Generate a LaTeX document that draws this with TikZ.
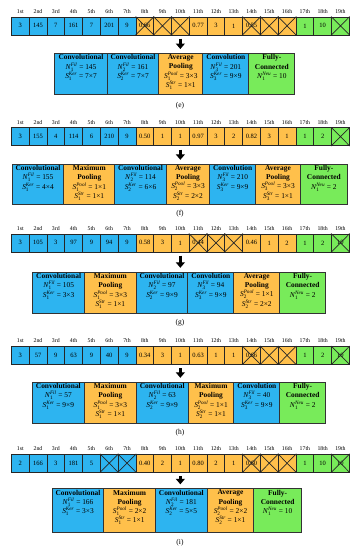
\documentclass[tikz,border=0pt]{standalone}
\usepackage{amsmath}
\usepackage{fontspec}
\setmainfont{Liberation Serif}
\usepackage{tikz}
\usetikzlibrary{arrows.meta, positioning}
\definecolor{cblue}{RGB}{45,180,240}
\definecolor{corange}{RGB}{255,192,75}
\definecolor{cgreen}{RGB}{120,235,90}
\newcommand{\parm}[3]{\textit{#1}$_{\textrm{#2}}^{\textit{#3}}$}

\begin{document}
\begin{tikzpicture}[x=1pt, y=-1pt,
			genebox/.style={draw=black!85, line width=0.7pt, minimum width=17.8pt, minimum height=18pt, inner sep=0pt, anchor=north west, font=\fontsize{6.5}{7}\selectfont},
			ordinal/.style={font=\fontsize{5.8}{6}\selectfont, inner sep=0pt},
			layerbox/.style={draw=black!80, line width=1pt, inner sep=0pt, anchor=north west},
			layertext/.style={align=center, inner sep=0pt, font=\fontsize{7.4}{9.3}\selectfont},
			panellabel/.style={font=\fontsize{7.5}{8}\selectfont},
			bigarrow/.style={line width=3.2pt, -{Triangle[width=9pt,length=5.5pt]}, shorten <=3.5pt, shorten >=4pt}
			]
			\useasboundingbox (0,0) rectangle (358,550);
			% gene values of each row: position/value/crossed
			\def\vale{1/3/0, 2/145/0, 3/7/0, 4/161/0, 5/7/0, 6/201/0, 7/9/0, 8/0.66/1, 9/{}/1, 10/{}/1, 11/0.77/0, 12/3/0, 13/1/0, 14/0.55/1, 15/{}/1, 16/{}/1, 17/1/0, 18/10/0, 19/{}/1}
			\def\valf{1/3/0, 2/155/0, 3/4/0, 4/114/0, 5/6/0, 6/210/0, 7/9/0, 8/0.50/0, 9/1/0, 10/1/0, 11/0.97/0, 12/3/0, 13/2/0, 14/0.82/0, 15/3/0, 16/1/0, 17/1/0, 18/2/0, 19/{}/1}
			\def\valg{1/3/0, 2/105/0, 3/3/0, 4/97/0, 5/9/0, 6/94/0, 7/9/0, 8/0.58/0, 9/3/0, 10/1/0, 11/0.44/1, 12/{}/1, 13/{}/1, 14/0.46/0, 15/1/0, 16/2/0, 17/1/0, 18/2/0, 19/10/1}
			\def\valh{1/3/0, 2/57/0, 3/9/0, 4/63/0, 5/9/0, 6/40/0, 7/9/0, 8/0.34/0, 9/3/0, 10/1/0, 11/0.63/0, 12/1/0, 13/1/0, 14/0.66/1, 15/{}/1, 16/{}/1, 17/1/0, 18/2/0, 19/10/1}
			\def\vali{1/2/0, 2/166/0, 3/3/0, 4/181/0, 5/5/0, 6/{}/1, 7/{}/1, 8/0.40/0, 9/2/0, 10/1/0, 11/0.80/0, 12/2/0, 13/1/0, 14/0.60/1, 15/{}/1, 16/{}/1, 17/1/0, 18/10/0, 19/10/1}
			\foreach \p/\y/\vals in {e/16.5/\vale, f/127.3/\valf, g/233.5/\valg, h/346/\valh, i/453.8/\vali}{
				\edef\vlist{\vals}
				\foreach \i/\v/\x in \vlist{
					\ifnum\i<8 \def\cc{cblue}\else\ifnum\i<17 \def\cc{corange}\else\def\cc{cgreen}\fi\fi
					\node[genebox, fill=\cc] (\p\i) at ({11+(\i-1)*17.79}, \y) {\v};
					\node[ordinal, above=3pt of \p\i] (\p o\i) {\i\ifcase\i\or st\or nd\or rd\else th\fi};
					\ifnum\x=1
					\draw[black!85, line width=0.7pt] (\p\i.north west) -- (\p\i.south east) (\p\i.north east) -- (\p\i.south west);
					\fi
				}
			}
			% panel (e)
			\foreach \n/\x/\w/\c/\txt in {1/54.3/52.4/cblue/{\textbf{Convolutional}\\\parm{N}{1}{Fil} = 145\\\parm{S}{1}{Ker} = 7×7},
				2/106.7/51.6/cblue/{\textbf{Convolutional}\\\parm{N}{2}{Fil} = 161\\\parm{S}{2}{Ker} = 7×7},
				3/158.3/44/corange/{\textbf{Average}\\\textbf{Pooling}\\\parm{S}{1}{Pool} = 3×3\\\parm{S}{1}{Str} = 1×1},
				4/202.3/46/cblue/{\textbf{Convolution}\\\parm{N}{3}{Fil} = 201\\\parm{S}{3}{Ker} = 9×9},
				5/248.3/46/cgreen/{\textbf{Fully-}\\\textbf{Connected}\\\parm{N}{1}{Neu} = 10}}{
				\node[layerbox, fill=\c, minimum width=\w, minimum height=41] (eb\n) at (\x, 53) {};
				\node[layertext, below=1.4pt of eb\n.north] (et\n) {\txt};
			}
			\draw[bigarrow] (e10.south) -- (e10.south |- eb3.north);
			\node[panellabel] (le) at (180,106) {(e)};
			% panel (f)
			\foreach \n/\x/\w/\c/\txt in {1/11.7/51.6/cblue/{\textbf{Convolutional}\\\parm{N}{1}{Fil} = 155\\\parm{S}{1}{Ker} = 4×4},
				2/63.3/51/corange/{\textbf{Maximum}\\\textbf{Pooling}\\\parm{S}{1}{Pool} = 1×1\\\parm{S}{1}{Str} = 1×1},
				3/114.3/51.4/cblue/{\textbf{Convolutional}\\\parm{N}{2}{Fil} = 114\\\parm{S}{2}{Ker} = 6×6},
				4/165.7/43.6/corange/{\textbf{Average}\\\textbf{Pooling}\\\parm{S}{2}{Pool} = 3×3\\\parm{S}{2}{Str} = 2×2},
				5/209.3/45.7/cblue/{\textbf{Convolution}\\\parm{N}{3}{Fil} = 210\\\parm{S}{3}{Ker} = 9×9},
				6/255/45/corange/{\textbf{Average}\\\textbf{Pooling}\\\parm{S}{3}{Pool} = 3×3\\\parm{S}{3}{Str} = 1×1},
				7/300/46.7/cgreen/{\textbf{Fully-}\\\textbf{Connected}\\\parm{N}{1}{Neu} = 2}}{
				\node[layerbox, fill=\c, minimum width=\w, minimum height=40] (fb\n) at (\x, 163.8) {};
				\node[layertext, below=1.4pt of fb\n.north] (ft\n) {\txt};
			}
			\draw[bigarrow] (f10.south) -- (f10.south |- fb4.north);
			\node[panellabel] (lf) at (180,214) {(f)};
			% panel (g)
			\foreach \n/\x/\w/\c/\txt in {1/32.3/51.7/cblue/{\textbf{Convolutional}\\\parm{N}{1}{Fil} = 105\\\parm{S}{1}{Ker} = 3×3},
				2/84/51.7/corange/{\textbf{Maximum}\\\textbf{Pooling}\\\parm{S}{1}{Pool} = 3×3\\\parm{S}{1}{Str} = 1×1},
				3/135.7/51.6/cblue/{\textbf{Convolutional}\\\parm{N}{2}{Fil} = 97\\\parm{S}{2}{Ker} = 9×9},
				4/187.3/46/cblue/{\textbf{Convolution}\\\parm{N}{3}{Fil} = 94\\\parm{S}{3}{Ker} = 9×9},
				5/233.3/46/corange/{\textbf{Average}\\\textbf{Pooling}\\\parm{S}{2}{Pool} = 1×1\\\parm{S}{2}{Str} = 2×2},
				6/279.3/45.7/cgreen/{\textbf{Fully-}\\\textbf{Connected}\\\parm{N}{1}{Neu} = 2}}{
				\node[layerbox, fill=\c, minimum width=\w, minimum height=41.6] (gb\n) at (\x, 271.8) {};
				\node[layertext, below=1.4pt of gb\n.north] (gt\n) {\txt};
			}
			\draw[bigarrow] (g10.south) -- (g10.south |- gb4.north);
			\node[panellabel] (lg) at (180,323) {(g)};
			% panel (h)
			\foreach \n/\x/\w/\c/\txt in {1/31.7/52.3/cblue/{\textbf{Convolutional}\\\parm{N}{1}{Fil} = 57\\\parm{S}{1}{Ker} = 9×9},
				2/84/51.7/corange/{\textbf{Maximum}\\\textbf{Pooling}\\\parm{S}{1}{Pool} = 3×3\\\parm{S}{1}{Str} = 1×1},
				3/135.7/52/cblue/{\textbf{Convolutional}\\\parm{N}{2}{Fil} = 63\\\parm{S}{2}{Ker} = 9×9},
				4/187.7/45.6/corange/{\textbf{Maximum}\\\textbf{Pooling}\\\parm{S}{2}{Pool} = 1×1\\\parm{S}{2}{Str} = 1×1},
				5/233.3/46/cblue/{\textbf{Convolution}\\\parm{N}{3}{Fil} = 40\\\parm{S}{3}{Ker} = 9×9},
				6/279.3/45.7/cgreen/{\textbf{Fully-}\\\textbf{Connected}\\\parm{N}{1}{Neu} = 2}}{
				\node[layerbox, fill=\c, minimum width=\w, minimum height=41.6] (hb\n) at (\x, 381.8) {};
				\node[layertext, below=1.4pt of hb\n.north] (ht\n) {\txt};
			}
			\draw[bigarrow] (h10.south) -- (h10.south |- hb4.north);
			\node[panellabel] (lh) at (180,433) {(h)};
			% panel (i)
			\foreach \n/\x/\w/\c/\txt in {1/51.7/51.6/cblue/{\textbf{Convolutional}\\\parm{N}{1}{Fil} = 166\\\parm{S}{1}{Ker} = 3×3},
				2/103.3/51.7/corange/{\textbf{Maximum}\\\textbf{Pooling}\\\parm{S}{1}{Pool} = 2×2\\\parm{S}{1}{Str} = 1×1},
				3/155/51.7/cblue/{\textbf{Convolutional}\\\parm{N}{2}{Fil} = 181\\\parm{S}{2}{Ker} = 5×5},
				4/206.7/46.6/corange/{\textbf{Average}\\\textbf{Pooling}\\\parm{S}{2}{Pool} = 2×2\\\parm{S}{2}{Str} = 1×1},
				5/253.3/47.7/cgreen/{\textbf{Fully-}\\\textbf{Connected}\\\parm{N}{1}{Neu} = 10}}{
				\node[layerbox, fill=\c, minimum width=\w, minimum height=43.4] (ib\n) at (\x, 488.3) {};
				\node[layertext, below=1.4pt of ib\n.north] (it\n) {\txt};
			}
			\draw[bigarrow] (i10.south) -- (i10.south |- ib3.north);
			\node[panellabel] (li) at (180,543) {(i)};
		\end{tikzpicture}
\end{document}
